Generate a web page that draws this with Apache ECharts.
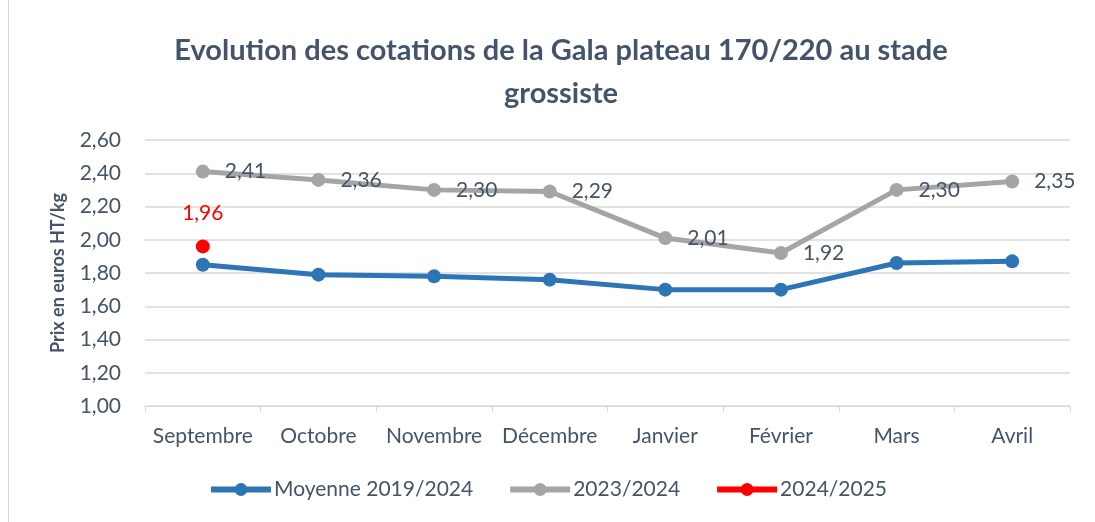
<!DOCTYPE html>
<html>
<head>
<meta charset="utf-8">
<script src="https://cdn.jsdelivr.net/npm/echarts@6/dist/echarts.min.js"></script>
<style>
html,body{margin:0;padding:0;background:#fff;}
#chart{width:1095px;height:522px;}
</style>
</head>
<body>
<div id="chart"></div>
<script>
var mois = ['Septembre','Octobre','Novembre','Décembre','Janvier','Février','Mars','Avril'];
var moyenne = [1.85,1.79,1.78,1.76,1.70,1.70,1.86,1.87];
var campagne2324 = [2.41,2.36,2.30,2.29,2.01,1.92,2.30,2.35];
var campagne2425 = [1.96,null,null,null,null,null,null,null];
var yTicks = [1.00,1.20,1.40,1.60,1.80,2.00,2.20,2.40,2.60];

var textColor = '#44546A';
var fmt = function(v){ return Number(v).toFixed(2).replace('.', ','); };

var myChart = echarts.init(document.getElementById('chart'));
var option = {
    backgroundColor: '#fff',
    textStyle: { fontFamily: 'Lato' },
    graphic: [{
        type: 'rect',
        shape: { x: 8.5, y: -2, width: 1100, height: 530 },
        style: { fill: 'none', stroke: '#D9D9D9', lineWidth: 1 }
    }],
    title: {
        text: 'Evolution des cotations de la Gala plateau 170/220 au stade\ngrossiste',
        left: 556,
        top: 24,
        textAlign: 'center',
        textStyle: { fontFamily: 'Lato', fontWeight: 'bold', fontSize: 29, color: textColor, lineHeight: 43 }
    },
    legend: {
        bottom: 17,
        left: 'center',
        itemWidth: 60,
        itemHeight: 16,
        itemGap: 34,
        lineStyle: { width: 6 },
        textStyle: { fontFamily: 'Lato', fontSize: 21, color: textColor, padding: [0, 0, 0, -2] },
        data: ['Moyenne 2019/2024','2023/2024','2024/2025']
    },
    grid: { left: 145, right: 25, top: 140, bottom: 116 },
    xAxis: {
        type: 'category',
        data: mois,
        boundaryGap: true,
        axisLine: { lineStyle: { color: '#D9D9D9' } },
        axisTick: { show: true, length: 6, interval: 0, lineStyle: { color: '#D9D9D9' } },
        axisLabel: { fontFamily: 'Lato', fontSize: 21, color: textColor, margin: 20, interval: 0 }
    },
    yAxis: {
        type: 'value',
        min: yTicks[0],
        max: yTicks[yTicks.length - 1],
        interval: 0.2,
        name: 'Prix en euros HT/kg',
        nameLocation: 'middle',
        nameGap: 78,
        nameTextStyle: { fontFamily: 'Lato', fontWeight: 'bold', fontSize: 18, color: textColor },
        axisLine: { show: false },
        axisTick: { show: false },
        splitLine: { lineStyle: { color: '#D9D9D9', width: 1.5 } },
        axisLabel: { fontFamily: 'Lato', fontSize: 21, color: textColor, margin: 24, formatter: fmt }
    },
    series: [
        {
            name: 'Moyenne 2019/2024',
            type: 'line',
            data: moyenne,
            color: '#2E75B6',
            symbol: 'circle',
            symbolSize: 14,
            lineStyle: { width: 5 },
            z: 3
        },
        {
            name: '2023/2024',
            type: 'line',
            data: campagne2324,
            color: '#A5A5A5',
            symbol: 'circle',
            symbolSize: 14,
            lineStyle: { width: 5 },
            label: {
                show: true,
                position: 'right',
                distance: 15,
                fontFamily: 'Lato',
                fontSize: 21,
                color: textColor,
                formatter: function(p){ return fmt(p.value); }
            },
            z: 2
        },
        {
            name: '2024/2025',
            type: 'line',
            data: campagne2425,
            color: '#FF0000',
            symbol: 'circle',
            symbolSize: 14,
            lineStyle: { width: 5 },
            label: {
                show: true,
                position: 'top',
                distance: 16,
                fontFamily: 'Lato',
                fontSize: 21,
                color: '#FF0000',
                formatter: function(p){ return fmt(p.value); }
            },
            z: 4
        }
    ]
};
myChart.setOption(option, true);
</script>
</body>
</html>
